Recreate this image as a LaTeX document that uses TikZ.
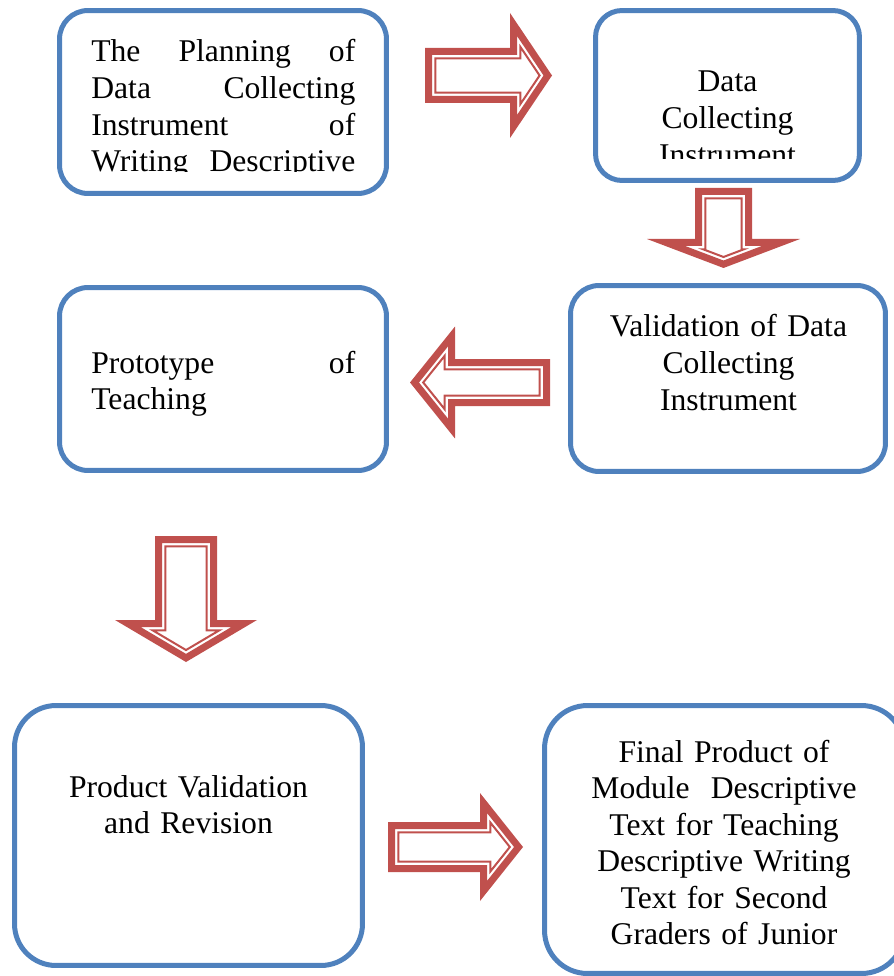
\documentclass[tikz,border=0pt]{standalone}
\usepackage{fontspec}
\setmainfont{Liberation Serif}
\usetikzlibrary{positioning}
\definecolor{boxblue}{HTML}{4F81BD}
\definecolor{arrowred}{HTML}{C0504D}
\tikzset{
box/.style = {draw=boxblue, line width=0.1cm, rectangle, inner sep=0pt},
txt/.style = {inner sep=0pt, font=\fontsize{18}{20.8}\selectfont},
arrowthick/.style = {draw=arrowred, line width=0.14cm, miter limit=20},
arrowthin/.style = {draw=arrowred, line width=0.04cm, miter limit=20},
}
\newcommand\jline[1]{\makebox[\hsize][s]{\spaceskip=0.25em plus 1fil\relax #1}}
\newcommand\arrowinset[5]{%
 \pgfmathsetmacro\aTan{(#3/2)/#4}%
 \pgfmathsetmacro\aSin{sin(atan(\aTan))}%
 \pgfmathsetmacro\aX{#5}%
 \pgfmathsetmacro\aS{#2/2-#5}%
 \pgfmathsetmacro\aB{#1-#4+#5}%
 \pgfmathsetmacro\aTip{#1-#5/\aSin}%
 \pgfmathsetmacro\aHy{(#4-#5-#5/\aSin)*\aTan}}
\newcommand\blockarrow[8]{%
 \begin{scope}[shift={(#2,#3)}, rotate=#4]
 \coordinate (#1) at (0,0);
 \arrowinset{#5}{#6}{#7}{#8}{3.5}
 \draw[arrowthick] (\aX,-\aS) -- (\aB,-\aS) -- (\aB,-\aHy) -- (\aTip,0) -- (\aB,\aHy) -- (\aB,\aS) -- (\aX,\aS) -- cycle;
 \arrowinset{#5}{#6}{#7}{#8}{10.3}
 \draw[arrowthin] (\aX,-\aS) -- (\aB,-\aS) -- (\aB,-\aHy) -- (\aTip,0) -- (\aB,\aHy) -- (\aB,\aS) -- (\aX,\aS) -- cycle;
 \end{scope}}
\begin{document}
\begin{tikzpicture}[x=0.02cm, y=-0.02cm]
	\useasboundingbox (0,0) rectangle (893,976);

	\node[box, minimum width=6.54cm, minimum height=3.66cm, rounded corners=0.57cm] (plan) at (223,102) {};
	\node[box, minimum width=5.28cm, minimum height=3.4cm, rounded corners=0.53cm] (instr) at (727.5,95.5) {};
	\node[box, minimum width=6.54cm, minimum height=3.66cm, rounded corners=0.57cm] (proto) at (223,379) {};
	\node[box, minimum width=6.3cm, minimum height=3.72cm, rounded corners=0.57cm] (valid) at (728,378.5) {};
	\node[box, minimum width=6.96cm, minimum height=5.2cm, rounded corners=0.83cm] (revis) at (188.5,835.5) {};
	\node[box, minimum width=7.2cm, minimum height=5.36cm, rounded corners=0.86cm] (final) at (724.5,839.5) {};

	\begin{scope}
		\clip (57,0) rectangle (390,171.5);
		\node[txt, text width=5.28cm, align=left, anchor=base west] (plantext) at (91,62) {\jline{The Planning of}\\\jline{Data Collecting}\\\jline{Instrument of}\\\jline{Writing Descriptive}};
	\end{scope}
	\begin{scope}
		\clip (593,0) rectangle (862,159);
		\node[txt, text width=5cm, align=center, anchor=base] (instrtext) at (727.5,92) {Data\\Collecting\\Instrument};
	\end{scope}
	\node[txt, text width=5.28cm, align=left, anchor=base west] (prototext) at (91,373) {\jline{Prototype of}\\Teaching};
	\node[txt, text width=6cm, align=center, anchor=base] (validtext) at (728.5,337) {Validation of Data\\Collecting\\Instrument};
	\node[txt, text width=6.5cm, align=center, anchor=base] (revistext) at (188.5,797) {Product Validation\\and Revision};
	\node[txt, text width=7cm, align=center, anchor=base] (finaltext) at (724,762) {Final Product of\\Module~ Descriptive\\Text for Teaching\\Descriptive Writing\\Text for Second\\Graders of Junior};

	\blockarrow{planarrow}{425}{75.5}{0}{127}{55}{125}{42}
	\blockarrow{instrarrow}{723.5}{188}{-90}{80}{57}{153}{29}
	\blockarrow{validarrow}{550}{382.5}{180}{140}{47}{112}{45}
	\blockarrow{protoarrow}{186}{536}{-90}{126}{62}{142}{42}
	\blockarrow{revisarrow}{388}{847}{0}{135}{50}{108}{43}

\end{tikzpicture}
\end{document}
